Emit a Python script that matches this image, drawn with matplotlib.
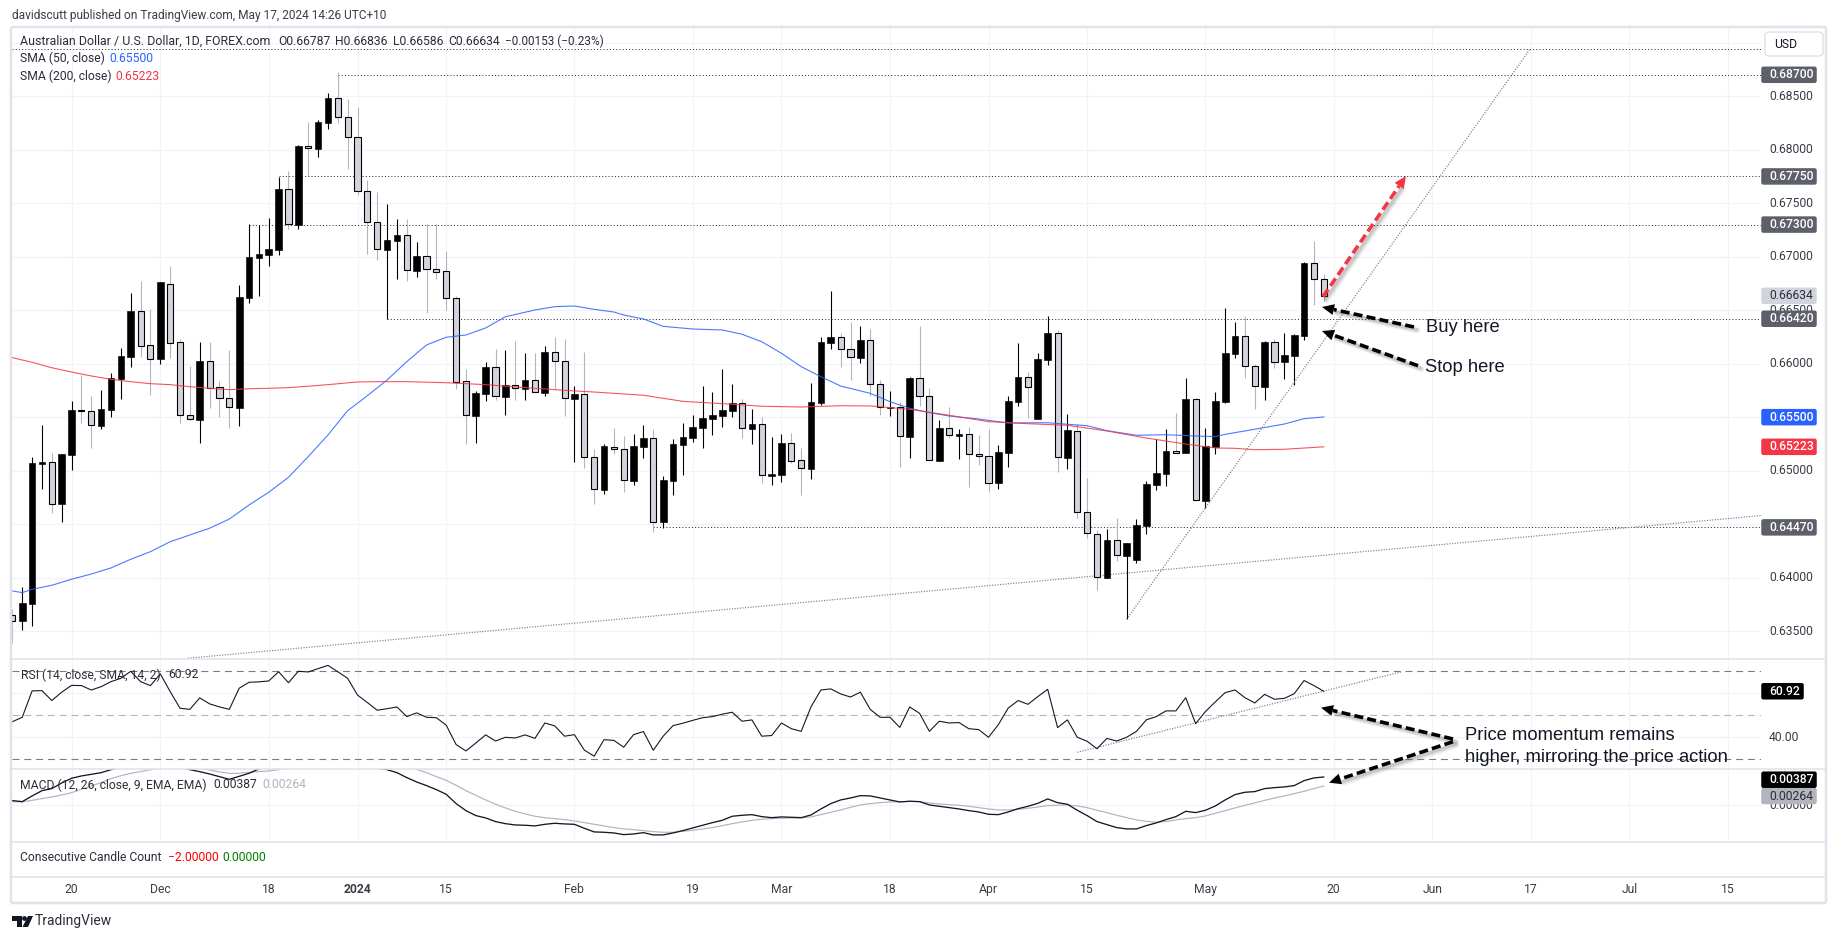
import numpy as np
import matplotlib
matplotlib.use("Agg")
import matplotlib.pyplot as plt
from matplotlib.patches import FancyBboxPatch, Polygon, Circle

plt.rcParams['font.family'] = ['Roboto', 'DejaVu Sans']
plt.rcParams['lines.scale_dashes'] = False

# ---------- data: prices in 1e-5 (points) ----------
opens = [63654,63598,63754,65065,65078,64691,65147,65567,65555,65418,
65567,65857,66065,66492,66172,66047,66742,66200,65518,65477,
66022,65780,65676,65589,66617,66991,67019,67065,67630,67299,
68032,68009,68252,68480,68303,68116,67611,67321,67065,67149,
67200,66869,67004,66882,66863,66611,65835,65514,65720,65966,
65691,65798,65766,65845,65729,66106,66022,65673,65714,65125,
64822,65224,65200,64906,65224,65303,64523,64906,65243,65308,
65402,65486,65514,65561,65630,65392,65434,64953,64962,65256,
65097,65016,65633,66196,66247,66134,66056,66219,65807,65589,
65592,65318,65863,65695,65093,65396,65327,65340,65153,65134,
64885,65168,65645,65873,65486,66037,66284,65121,65374,64611,
64411,64000,64349,64205,64165,64486,64866,64972,65181,65168,
65667,64719,65221,65642,66093,66256,65976,65785,66200,66019,
66075,66262,66938,66787]
highs = [63710,63916,65131,65427,65168,65156,65651,65894,65698,65754,
65910,66144,66658,66773,66511,66761,66913,66231,65978,66200,
66200,65838,66128,66735,67303,67296,67359,67748,67801,68044,
68259,68277,68527,68726,68477,68399,67714,67602,67492,67352,
67352,67137,67303,67303,67053,66633,65947,65745,66013,66137,
66128,66212,66100,66100,66165,66247,66231,65791,66109,65200,
65247,65396,65324,65343,65427,65390,64950,65293,65446,65520,
65791,65735,65950,65810,65667,65577,65502,65315,65343,65352,
65212,65819,66249,66679,66284,66390,66352,66324,65845,65745,
65639,65876,66352,65770,65474,65595,65390,65408,65334,65390,
65240,65698,66193,65922,66097,66446,66312,65530,65436,64932,
64446,64455,64558,64324,64548,64904,65293,65390,65536,65866,
65679,65396,65735,66518,66387,66443,66000,66209,66228,66287,
66275,66948,67144,66836]
lows = [63390,63511,63548,64829,64607,64520,65006,65448,65212,65390,
65502,65670,65972,66065,65710,65997,66056,65448,65474,65262,
65586,65505,65402,65420,66570,66635,66916,67019,67256,67262,
67751,67934,68193,68252,67822,67577,67025,66969,66415,66789,
66776,66813,66477,66789,66502,65763,65249,65262,65654,65661,
65520,65661,65661,65733,65698,65761,65511,65081,65028,64689,
64782,65156,64801,64866,65119,64430,64467,64773,64960,65271,
65212,65336,65411,65505,65305,65249,64888,64866,64897,65075,
64773,64922,65617,66140,65972,65848,66009,65701,65520,65511,
65037,65119,65607,65097,65093,65308,65109,64850,65056,64804,
64829,65034,65607,65492,65486,65988,64990,65016,64561,64374,
63885,64000,64156,63611,64140,64411,64819,64857,65168,65168,
64723,64648,65156,65635,66053,65869,65577,65661,65962,65857,
65798,66224,66548,66586]
closes = [63598,63761,65072,65078,64691,65156,65567,65561,65424,65577,
65866,66072,66492,66168,66047,66761,66196,65518,65480,66022,
65776,65676,65592,66620,66997,67022,67069,67630,67303,68034,
68013,68256,68480,68303,68116,67611,67321,67069,67153,67200,
66873,67004,66882,66860,66611,65832,65518,65723,65969,65695,
65798,65770,65845,65733,66106,66022,65676,65714,65125,64826,
65228,65200,64910,65231,65305,64523,64913,65249,65315,65408,
65492,65520,65567,65633,65396,65436,64957,64966,65259,65093,
65022,65639,66200,66247,66134,66060,66219,65807,65592,65595,
65321,65866,65695,65097,65396,65331,65340,65153,65134,64888,
65172,65648,65873,65780,66041,66284,65125,65377,64611,64415,
64004,64349,64209,64324,64490,64876,64978,65184,65168,65667,
64723,65231,65648,66097,66259,65976,65789,66203,66019,66081,
66268,66941,66789,66634]

sma50_bar = [0,1,2,4,6,8,10,12,14,16,18,20,22,24,26,28,30,32,34,35,36,38,40,42,44,46,48,50,53,55,57,59,61,62,64,66,69,72,74,76,78,80,82,84,87,89,91,93,95,98,101,105,109,111,114,117,120,122,123,126,129,131,133]
sma50_val = [63876,63860,63891,63929,63985,64034,64091,64172,64243,64336,64399,64462,64548,64679,64798,64938,65131,65333,65561,65630,65701,65848,66019,66175,66247,66268,66334,66439,66502,66533,66539,66508,66483,66455,66418,66349,66324,66315,66275,66205,66097,65972,65878,65791,65723,65645,65583,65542,65511,65483,65446,65448,65420,65374,65331,65336,65324,65318,65340,65387,65436,65486,65502]
sma200_bar = [0,2,4,6,8,10,12,14,16,18,20,22,24,26,28,30,32,35,37,40,44,48,52,56,59,64,68,72,76,80,84,87,91,95,99,103,107,111,115,119,122,124,126,129,133]
sma200_val = [66056,66013,65962,65922,65885,65854,65832,65813,65804,65785,65770,65757,65766,65770,65776,65789,65804,65829,65832,65832,65822,65804,65776,65751,65735,65705,65648,65626,65602,65595,65607,65605,65574,65518,65458,65439,65424,65371,65305,65249,65212,65209,65196,65200,65223]

rsi = [47.1,49.1,61.1,61.2,56.7,60.5,63.6,63.5,61.5,63,
65.3,66.8,70,65.3,63.5,68.8,60.8,53.2,52.7,57.9,
55.2,53.8,52.7,62.3,65,65.2,65.6,69.8,64.8,70,
69.7,71.2,72.7,69.8,66.8,59.2,55.8,52.3,53,53.8,
49.4,51.1,49.1,48.9,45.5,36.7,33.8,37.4,41.1,38.3,
40,39.7,41.1,39.5,46.5,45.2,40.5,41.2,34.2,31.4,
38.9,38.6,35.5,41.2,42.6,34.1,40.5,45.3,46.4,47.7,
48.9,49.4,50.5,51.4,47.3,47.9,40.5,40.8,46.5,43.9,
42.7,53.9,61.5,62,59.7,58.3,60.5,52.7,49.1,49.1,
44.5,53.8,50.9,42.7,47.3,46.5,46.7,43.9,43.5,40,
45.8,53.3,56.7,55,58.5,61.8,44.4,47.9,40,38.2,
34.8,39.5,38.3,40,42.7,47.9,49.4,52,52,58,
46.2,51.7,56.1,60.3,61.5,58,55.6,59.5,57.3,57.7,
59.8,65.8,63.5,60.92]

macd = [64,50,128,200,228,305,369,401,424,446,487,519,551,597,620,620,574,529,487,460,
428,392,355,396,437,497,538,597,620,665,702,734,765,756,711,620,538,506,487,446,
378,319,269,214,150,23,-73,-141,-173,-223,-251,-269,-273,-282,-260,-246,-255,-260,-314,-364,
-369,-378,-401,-392,-374,-405,-405,-378,-346,-310,-273,-237,-205,-150,-137,-128,-155,-169,-159,-164,
-169,-132,-50,23,73,100,132,128,100,73,46,55,50,5,-14,-32,-50,-73,-91,-123,
-128,-91,-46,-14,27,87,36,14,-68,-141,-223,-264,-305,-323,-323,-278,-241,-196,-155,-82,
-100,-68,-9,73,146,178,187,228,241,251,269,337,374,387]
signal = [50,46,68,91,114,141,173,219,264,310,364,405,437,460,487,506,519,529,519,506,
483,456,437,437,451,460,469,487,519,551,583,620,656,679,697,702,683,656,620,574,
529,492,446,392,342,273,200,137,73,14,-36,-82,-118,-150,-169,-182,-196,-214,-237,-260,
-282,-305,-323,-333,-346,-360,-369,-369,-355,-342,-323,-305,-278,-251,-228,-205,-191,-182,-178,-173,
-173,-159,-128,-96,-64,-27,5,23,36,46,46,55,50,32,18,9,0,-14,-32,-50,
-64,-64,-55,-41,-23,-5,0,5,-9,-32,-68,-100,-137,-169,-200,-219,-232,-223,-200,-182,
-169,-146,-109,-73,-36,0,32,68,100,128,159,191,228,264]

price_ticks = [0.685,0.680,0.675,0.670,0.665,0.660,0.650,0.640,0.635]
grid_prices = [0.690,0.685,0.680,0.675,0.670,0.665,0.660,0.655,0.650,0.645,0.640,0.635]
date_ticks = [6,15,26,35,44,57,69,78,89,99,109,121,134,144,154,164,174]
date_labels = ['20','Dec','18','2024','15','Feb','19','Mar','18','Apr','15','May','20','Jun','17','Jul','15']
levels = [0.68938,0.68700,0.67750,0.67300,0.66420,0.64470]
level_start = [0,33,27,24,38,65]
long_trend_bars = [17.8,177.3]; long_trend_px = [0.63247,0.64580]
steep_trend_bars = [113,153.9]; steep_trend_px = [0.63611,0.68938]
rsi_trend_bars = [108,140.9]; rsi_trend_vals = [33.2,69.8]

# ---------- layout ----------
W, H = 1837, 939
X0, X1, XR = 12, 1761, 1826
YT, Y1, Y2, Y3, Y4, YB = 27, 659.3, 769.3, 842.3, 876.7, 903
BAR0, STEP = 12.4, 9.86
INK = '#131722'; GRID = '#f0f3fa'; FRAME = '#e0e3eb'; MUTED = '#b2b5be'
CANDLE_GREY = '#d1d4dc'

fig = plt.figure(figsize=(W/100, H/100), dpi=100, facecolor='white')
def pane(top, bottom):
    a = fig.add_axes([X0/W, 1-bottom/H, (X1-X0)/W, (bottom-top)/H])
    a.set_xlim((X0-BAR0)/STEP, (X1-BAR0)/STEP)
    for s in a.spines.values():
        s.set_visible(False)
    a.set_xticks([]); a.set_yticks([])
    a.patch.set_alpha(0)
    return a

ax = pane(YT, Y1); ax_r = pane(Y1, Y2); ax_m = pane(Y2, Y3)
ax.set_ylim(0.63237, 0.691467)
ax_r.set_ylim(25.45, 75.45)
ax_m.set_ylim(-0.00506, 0.00492)
ov = fig.add_axes([0, 0, 1, 1]); ov.set_xlim(0, W); ov.set_ylim(H, 0); ov.axis('off'); ov.patch.set_alpha(0)

PX = 0.72
for a in (ax, ax_r, ax_m):
    for t in date_ticks:
        a.axvline(t, color=GRID, lw=1.1*PX, zorder=0)
for p in grid_prices:
    ax.axhline(p, color=GRID, lw=1.3*PX, zorder=0)
for v in (40, 60):
    ax_r.axhline(v, color=GRID, lw=1.3*PX, zorder=0)
ax_m.axhline(0, color=GRID, lw=1.3*PX, zorder=0)

# ---------- candles ----------
bars = np.arange(len(closes))
O, Hi, L, C = [np.array(v)/1e5 for v in (opens, highs, lows, closes)]
up = C >= O
ax.vlines(bars[up], L[up], Hi[up], color='black', lw=1.1*PX, zorder=3)
ax.vlines(bars[~up], L[~up], Hi[~up], color=MUTED, lw=1.1*PX, zorder=3)
ax.bar(bars[up], (C-O)[up], bottom=O[up], width=0.68, color='black', edgecolor='black', lw=0.6*PX, zorder=4)
ax.bar(bars[~up], (O-C)[~up], bottom=C[~up], width=0.62, color=CANDLE_GREY, edgecolor='black', lw=1.1*PX, zorder=4)
ax.plot(sma50_bar, np.array(sma50_val)/1e5, color='#2962ff', lw=1.1*PX, alpha=.85, zorder=5)
ax.plot(sma200_bar, np.array(sma200_val)/1e5, color='#f23645', lw=1.1*PX, alpha=.85, zorder=5)

# drawings on price pane
for p, s in zip(levels, level_start):
    ax.plot([s, (X1-BAR0)/STEP], [p, p], color='#3a3d46', lw=1.0*PX, dashes=(0.8, 1.5), zorder=2)
ax.plot(long_trend_bars, long_trend_px, color='#787b86', lw=1.2*PX, dashes=(0.8, 1.1), zorder=2)
ax.plot(steep_trend_bars, steep_trend_px, color='#787b86', lw=1.2*PX, dashes=(0.8, 1.1), zorder=6)

# ---------- RSI ----------
for v, col in ((70, '#787b86'), (50, MUTED), (30, '#787b86')):
    ax_r.axhline(v, color=col, lw=1.1*PX, dashes=(5, 3.5), zorder=1)
ax_r.plot(bars, rsi, color=INK, lw=1.1*PX, zorder=4)
ax_r.plot(rsi_trend_bars, rsi_trend_vals, color='#787b86', lw=1.2*PX, dashes=(0.8, 1.1), zorder=3)

# ---------- MACD ----------
ax_m.plot(bars, np.array(signal)/1e5, color=MUTED, lw=1.2*PX, zorder=3)
ax_m.plot(bars, np.array(macd)/1e5, color=INK, lw=1.3*PX, zorder=4)

# ---------- frame ----------
def frame_line(xs, ys, lw=2.0):
    ov.plot(xs, ys, color=FRAME, lw=lw*PX, solid_capstyle='butt', zorder=1)
frame_line([X0-1, XR], [YT, YT], 2.5)
frame_line([X0-1, XR], [YB, YB], 2.5)
frame_line([X0-1, X0-1], [YT, YB], 2.5)
frame_line([XR, XR], [YT, YB], 2.5)
for y in (Y1, Y2, Y3, Y4):
    frame_line([X0, XR], [y, y], 1.6)

def txt(x, y, s, color='#2a2e39', size=8.7, **kw):
    kw.setdefault('ha', 'left')
    ov.text(x, y, s, color=color, fontsize=size, va='center', zorder=20, **kw)

def y_of(a, v):
    return H - a.transData.transform((0, v))[1]

# ---------- right scale ----------
LX = 1769
fig.canvas.draw()
for p in price_ticks:
    txt(LX, y_of(ax, p), f'{p:.5f}', color='#3a3d46', size=8.7)
txt(LX, y_of(ax_r, 40), '40.00', color='#3a3d46', size=8.7)
txt(LX, y_of(ax_m, 0), '0.00000', color='#3a3d46', size=8.7)

def box(y, s, bg, fg, right=1817, weight='medium'):
    ov.add_patch(FancyBboxPatch((X1+1, y-7.5), right-X1-2, 15, boxstyle='round,pad=0,rounding_size=1.5',
                                fc=bg, ec=bg, lw=1.5*PX, zorder=21))
    ov.text(LX, y, s, color=fg, fontsize=8.7, va='center', ha='left', zorder=22, fontweight=weight)

for p in (0.68700, 0.67750, 0.67300, 0.64470):
    box(y_of(ax, p), f'{p:.5f}', '#5d606b', 'white')
box(y_of(ax, 0.66634), '0.66634', CANDLE_GREY, '#2a2e39', weight='normal')
box(y_of(ax, 0.66420), '0.66420', '#5d606b', 'white')
box(y_of(ax, 0.65500), '0.65500', '#2962ff', 'white')
box(y_of(ax, 0.65223), '0.65223', '#f23645', 'white')
box(y_of(ax_r, 60.92), '60.92', '#000000', 'white', right=1804)
box(796, '0.00264', MUTED, '#2a2e39', weight='normal')   # the chart stacks these two labels
box(779.7, '0.00387', '#000000', 'white')
ov.add_patch(FancyBboxPatch((1765, 32), 58, 24, boxstyle='round,pad=0,rounding_size=4', fc='white', ec=FRAME, lw=1.5*PX, zorder=21))
ov.text(1774, 44.5, 'USD', color=INK, fontsize=8.7, va='center', zorder=22)

# ---------- time axis ----------
for t, s in zip(date_ticks, date_labels):
    x = BAR0 + STEP*t
    ov.text(x, 889.5, s, color='#3a3d46', fontsize=8.7, ha='center', va='center', fontweight='bold' if s == '2024' else 'normal', zorder=20)

# ---------- titles / legends ----------
txt(12, 15, 'davidscutt published on TradingView.com, May 17, 2024 14:26 UTC+10', color='#3a3d46', size=8.57)
txt(20, 41.7, 'Australian Dollar / U.S. Dollar, 1D, FOREX.com', size=8.9)
txt(278, 41.7, 'O0.66787'); txt(335, 41.7, 'H0.66836'); txt(392.6, 41.7, 'L0.66586'); txt(448, 41.7, 'C0.66634')
txt(505, 41.7, '\u22120.00153 (\u22120.23%)', size=8.5)
txt(20, 58.7, 'SMA (50, close)'); txt(109, 58.7, '0.65500', color='#2962ff')
txt(20, 76, 'SMA (200, close)'); txt(115.5, 76, '0.65223', color='#f23645')
txt(20.7, 675, 'RSI (14, close, SMA, 14, 2)'); txt(168, 675, '60.92')
txt(20, 785, 'MACD (12, 26, close, 9, EMA, EMA)'); txt(213, 785, '0.00387'); txt(262, 785, '0.00264', color=MUTED)
txt(20, 857.7, 'Consecutive Candle Count'); txt(168, 857.7, '\u22122.00000', color='#ff0000'); txt(222.7, 857.7, '0.00000', color='#008000')

# ---------- footer logo ----------
ov.add_patch(Polygon([(12, 916), (22, 916), (22, 927), (17, 927), (17, 921), (12, 921)], fc=INK, ec='none', zorder=20))
ov.add_patch(Circle((24.5, 918.5), 2.4, fc=INK, ec='none', zorder=20))
ov.add_patch(Polygon([(28, 916), (33, 916), (28, 927), (22.5, 927)], fc=INK, ec='none', zorder=20))
txt(35, 921.5, 'TradingView', color='#2a2e39', size=10.0)

# ---------- hand-drawn annotations ----------
def dashed_arrow(start, end, color):
    d = np.array(end) - np.array(start); d = d / np.hypot(*d)
    neck = np.array(end) - d*12
    for off, w, al in ((3.5, 6.0, .08), (3.0, 4.5, .12), (2.5, 3.0, .16)):
        ov.plot([start[0]+off, neck[0]+off], [start[1]+off, neck[1]+off], color='#555555', lw=w*PX, alpha=al, solid_capstyle='round', zorder=9)
    ov.plot([start[0], neck[0]], [start[1], neck[1]], color=color, lw=3.6*PX, dashes=(6.5, 3), zorder=10)
    n = np.array([-d[1], d[0]])
    head = [tuple(end), tuple(neck + n*5.5), tuple(neck - n*5.5)]
    ov.add_patch(Polygon(head, fc=color, ec='none', zorder=10))

dashed_arrow((1323, 296.7), (1406, 176), '#f23645')
dashed_arrow((1414, 327), (1322, 307), 'black')
dashed_arrow((1418, 365.7), (1322, 331), 'black')
dashed_arrow((1453, 739), (1321, 707.7), 'black')
dashed_arrow((1453, 741.7), (1329, 782.7), 'black')

def note(x, y, s):
    ov.text(x, y, s, fontsize=13.2, family='Liberation Sans', color=INK, va='center', ha='left', zorder=23)
note(1425.5, 328, 'Buy here')
note(1425, 367.7, 'Stop here')
note(1465, 736, 'Price momentum remains')
note(1465, 758, 'higher, mirroring the price action')

fig.savefig('out.png', dpi=100, facecolor='white')
